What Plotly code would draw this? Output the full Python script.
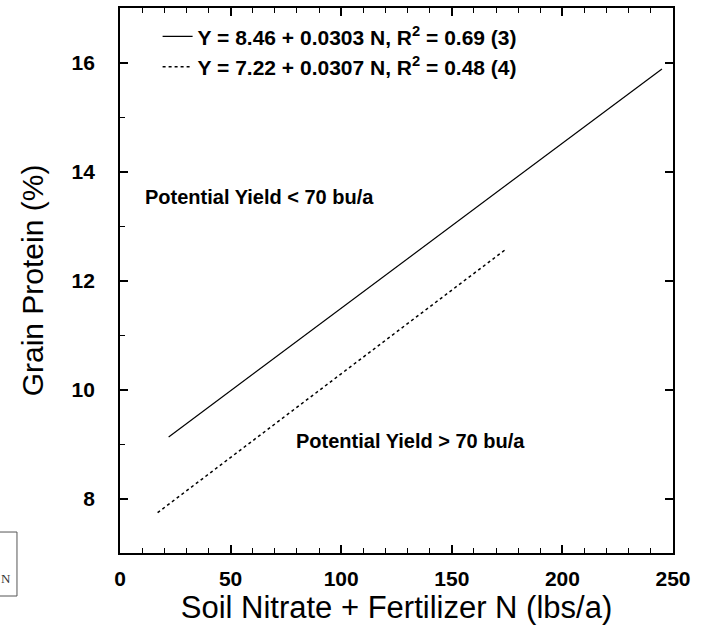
import plotly.graph_objects as go

# Regression lines (endpoints of each fitted line)
n_low = [22, 245]          # Soil Nitrate + Fertilizer N (lbs/a)
y_low = [9.13, 15.88]      # Grain Protein (%)  Potential Yield < 70 bu/a
n_high = [17, 174]
y_high = [7.74, 12.56]     # Potential Yield > 70 bu/a

name_low = "Y = 8.46 + 0.0303 N, R<sup>2</sup> = 0.69 (3)"
name_high = "Y = 7.22 + 0.0307 N, R<sup>2</sup> = 0.48 (4)"

x_ticks = [0, 50, 100, 150, 200, 250]
y_ticks = [8, 10, 12, 14, 16]

FONT = "Liberation Sans, Arial, sans-serif"

fig = go.Figure()
fig.add_trace(go.Scatter(x=n_low, y=y_low, mode="lines", name=name_low,
                         line=dict(color="black", width=1.2)))
fig.add_trace(go.Scatter(x=n_high, y=y_high, mode="lines", name=name_high,
                         line=dict(color="black", width=1.5, dash="dot")))
# invisible carrier for the right-hand axis
fig.add_trace(go.Scatter(x=[None], y=[None], yaxis="y2", showlegend=False,
                         hoverinfo="skip"))

fig.update_layout(
    width=701, height=628,
    margin=dict(l=120, r=28, t=8, b=75, autoexpand=False),
    paper_bgcolor="white", plot_bgcolor="white",
    font=dict(family=FONT, color="black"),
    showlegend=True,
    legend=dict(x=0.068, y=0.985, xanchor="left", yanchor="top",
                bgcolor="rgba(0,0,0,0)", itemwidth=30,
                font=dict(size=21, family=FONT, weight="bold"),
                tracegroupgap=0),
    xaxis=dict(range=[0, 250], tickvals=x_ticks, ticks="inside", ticklen=8,
               tickwidth=1.5, tickcolor="black", automargin=False,
               showline=True, linecolor="black", linewidth=1.8, mirror="ticks",
               showgrid=False, zeroline=False,
               minor=dict(dtick=10, tick0=0, ticks="inside", ticklen=5,
                          tickwidth=1.2, tickcolor="black", showgrid=False),
               tickfont=dict(size=21, family=FONT, weight="bold"),
               ticklabelstandoff=6,
               title=dict(text="Soil Nitrate + Fertilizer N (lbs/a)",
                          font=dict(size=31, family=FONT), standoff=2)),
    yaxis=dict(range=[7, 17], tickvals=y_ticks, ticks="inside", ticklen=8,
               tickwidth=1.5, tickcolor="black", automargin=False,
               showline=True, linecolor="black", linewidth=1.8, mirror=False,
               showgrid=False, zeroline=False,
               minor=dict(dtick=1, tick0=7, ticks="inside", ticklen=5,
                          tickwidth=1.2, tickcolor="black", showgrid=False),
               tickfont=dict(size=21, family=FONT, weight="bold"),
               ticklabelstandoff=19,
               title=dict(text="Grain Protein (%)",
                          font=dict(size=30, family=FONT), standoff=19)),
    yaxis2=dict(range=[7, 17], overlaying="y", side="right", automargin=False,
                tickvals=y_ticks, ticks="inside", ticklen=8, tickwidth=1.5,
                tickcolor="black", showticklabels=False,
                showline=True, linecolor="black", linewidth=1.8,
                showgrid=False, zeroline=False),
)

fig.add_annotation(x=10.4, y=13.54, xref="x", yref="y", xanchor="left",
                   yanchor="middle", showarrow=False,
                   text="Potential Yield < 70 bu/a",
                   font=dict(size=20, family=FONT, weight="bold"))
fig.add_annotation(x=78.7, y=9.06, xref="x", yref="y", xanchor="left",
                   yanchor="middle", showarrow=False,
                   text="Potential Yield > 70 bu/a",
                   font=dict(size=20, family=FONT, weight="bold"))

# stray framed box at bottom-left of the page
fig.add_shape(type="rect", xref="paper", yref="paper",
              x0=-0.225, x1=-0.1863, y0=-0.0789, y1=0.0385,
              line=dict(color="#555555", width=1), fillcolor="white")
fig.add_annotation(x=-0.206, y=-0.0477, xref="paper", yref="paper",
                   xanchor="center", yanchor="middle", showarrow=False,
                   text="N", font=dict(size=13, family="Liberation Serif, serif",
                                       color="#333333"))

fig.write_html("out.html",
               config={"displayModeBar": False},
               post_script="document.body.style.margin='0';"
                           "document.body.style.padding='0';")
